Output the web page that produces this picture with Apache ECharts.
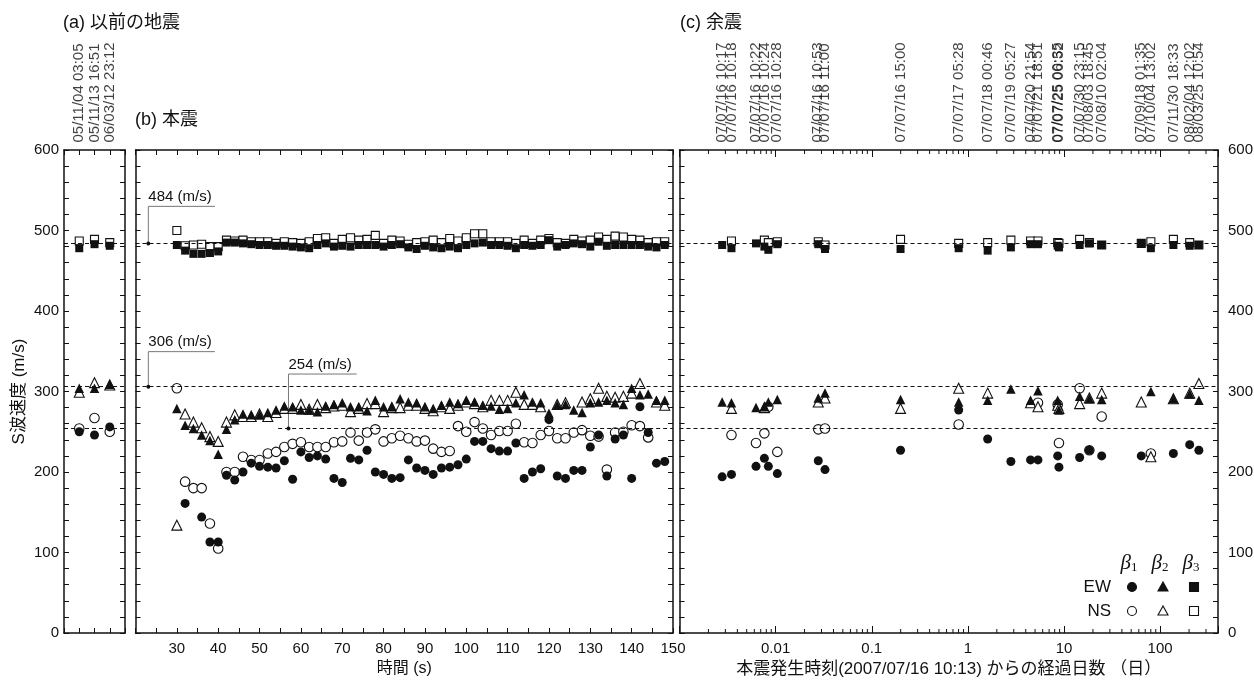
<!DOCTYPE html>
<html>
<head>
<meta charset="utf-8">
<script src="https://cdn.jsdelivr.net/npm/echarts/dist/echarts.min.js"></script>
<style>
html, body { margin: 0; padding: 0; background: #fff; }
#chart { width: 1254px; height: 682px; }
</style>
</head>
<body>
<div id="chart"></div>
<script>
// (a) 以前の地震
var prevLabels = ['05/11/04 03:05', '05/11/13 16:51', '06/03/12 23:12'];
var prevPos = [1, 2, 3];
var prevEW1 = [250, 246, 256];
var prevNS1 = [254, 267, 250];
var prevEW2 = [304, 304, 309];
var prevNS2 = [299, 311, 308];
var prevEW3 = [478, 483, 481];
var prevNS3 = [487, 489, 485];

// (b) 本震 (時間 s)
var mainTime = [30, 32, 34, 36, 38, 40, 42, 44, 46, 48, 50, 52, 54, 56, 58, 60, 62, 64, 66, 68,
  70, 72, 74, 76, 78, 80, 82, 84, 86, 88, 90, 92, 94, 96, 98, 100, 102, 104, 106, 108,
  110, 112, 114, 116, 118, 120, 122, 124, 126, 128, 130, 132, 134, 136, 138, 140, 142, 144, 146, 148];
var mainEW1 = [null, 161, null, 144, 113, 113, 196, 190, 200, 211, 207, 206, 205, 214, 191, 225, 218, 220, 216, 192,
  187, 217, 215, 227, 200, 197, 192, 193, 215, 205, 202, 197, 205, 206, 209, 216, 238, 238, 229, 226,
  226, 236, 192, 200, 204, 265, 195, 192, 202, 202, 231, 246, 195, 241, 246, 192, 281, 249, 211, 213];
var mainNS1 = [304, 188, 180, 180, 136, 105, 200, 200, 219, 215, 215, 223, 225, 231, 235, 237, 231, 231, 231, 237,
  238, 249, 239, 249, 253, 238, 242, 245, 242, 238, 239, 229, 225, 226, 257, 250, 262, 254, 246, 251,
  251, 260, 237, 236, 246, 251, 242, 242, 249, 252, 245, 244, 203, 249, 250, 258, 257, 243, null, null];
var mainEW2 = [279, 258, 254, 246, 239, 222, 253, 265, 272, 271, 271, 274, 277, 282, 281, 277, 277, 275, 282, 284,
  286, 281, 281, 276, 289, 281, 281, 291, 287, 286, 281, 279, 283, 287, 285, 289, 287, 283, 282, 278,
  279, 286, 296, 287, 286, 273, 283, 284, 277, 274, 286, 287, 289, 286, 284, 304, 296, 297, 289, 289];
var mainNS2 = [134, 272, 262, 255, 244, 238, 262, 271, 269, 269, 272, 269, 274, 279, 279, 284, 278, 284, 280, 282,
  283, 275, 279, 285, 285, 275, 280, 280, 283, 283, 279, 276, 281, 279, 283, 287, 285, 281, 289, 289,
  289, 299, 284, 284, 281, null, 284, 286, null, 287, 291, 304, 294, 293, 294, 298, 310, null, 287, 283];
var mainEW3 = [482, 475, 471, 471, 472, 474, 485, 485, 484, 483, 482, 482, 481, 481, 480, 479, 478, 482, 484, 480,
  481, 480, 482, 482, 482, 480, 482, 483, 479, 477, 481, 479, 478, 480, 478, 482, 484, 485, 482, 482,
  481, 478, 482, 481, 482, 488, 480, 482, 484, 483, 480, 486, 481, 482, 482, 482, 482, 480, 479, 482];
var mainNS3 = [500, 481, 482, 483, 480, 480, 488, 487, 488, 486, 486, 486, 484, 486, 485, 484, 486, 490, 491, 484,
  489, 491, 488, 489, 494, 484, 488, 487, 483, 485, 486, 488, 485, 490, 487, 491, 496, 496, 486, 486,
  486, 484, 488, 484, 488, 490, 485, 484, 489, 487, 488, 492, 489, 493, 492, 489, 488, 485, 486, 486];

// (c) 余震 (本震からの経過日数)
var afterDays = [0.002778, 0.003472, 0.00625, 0.007639, 0.0084, 0.010417, 0.027778, 0.032639, 0.199306,
  0.802083, 1.60625, 2.80139, 4.48681, 5.35972, 8.59861, 8.86042, 14.5424, 18.3556, 24.6604,
  63.6396, 80.1174, 137.347, 203.076, 253.028];
var afterLabels = ['07/07/16 10:17', '07/07/16 10:18', '07/07/16 10:22', '07/07/16 10:24', '',
  '07/07/16 10:28', '07/07/16 10:53', '07/07/16 11:00', '07/07/16 15:00', '07/07/17 05:28',
  '07/07/18 00:46', '07/07/19 05:27', '07/07/20 21:54', '07/07/21 18:51', '07/07/25 00:35',
  '07/07/25 06:52', '07/07/30 23:15', '07/08/03 18:45', '07/08/10 02:04', '07/09/18 01:35',
  '07/10/04 13:02', '07/11/30 18:33', '08/02/04 12:02', '08/03/25 10:54'];
var afterEW1 = [194, 197, 207, 217, 207, 198, 214, 203, 227, 277, 241, 213, 215, 215, 220, 206, 218, 227, 220, 220, null, 223, 234, 227];
var afterNS1 = [null, 246, 236, 248, 281, 225, 253, 254, null, 259, null, null, null, 286, 284, 236, 304, 227, 269, null, 223, null, null, null];
var afterEW2 = [287, 286, 280, 281, 287, 290, 292, 298, 290, 287, 289, 303, 289, 301, 289, 277, 294, 291, 290, null, 300, 291, 297, 289];
var afterNS2 = [null, 279, null, 280, null, null, 287, 292, 279, 304, 298, null, 286, 281, 283, 279, 285, 292, 298, 287, 219, 291, 298, 310];
var afterEW3 = [482, 478, 484, 480, 476, 483, 483, 477, 477, 478, 475, 479, 483, 483, 481, 479, 482, 484, 482, 484, 478, 482, 481, 482];
var afterNS3 = [null, 487, null, 488, 485, 486, 486, 482, 489, 484, 485, 488, 487, 487, 485, 484, 489, 485, 482, 484, 486, 489, 485, 482];

// 基準速度 (m/s)
var refLines = [484, 306, 254];
var ref254Start = 54.5;
// 吹き出し: [基点, 折れ点, 終点]
var callouts = [
  {text: '484 (m/s)', pts: [[23.1, 484], [23.1, 530], [39.2, 530]]},
  {text: '306 (m/s)', pts: [[23.1, 306], [23.1, 349.5], [39.2, 349.5]]},
  {text: '254 (m/s)', pts: [[57, 254], [57, 321.7], [73.5, 321.7]]}
];

var FONT = '"Liberation Sans", "Noto Sans CJK JP", sans-serif';
var INK = '#111';

var marks = {
  EW1: {symbol: 'circle', size: 9, fill: INK},
  NS1: {symbol: 'circle', size: 9.5, fill: '#fff'},
  EW2: {symbol: 'triangle', size: 9.5, fill: INK},
  NS2: {symbol: 'triangle', size: 10, fill: '#fff'},
  EW3: {symbol: 'rect', size: 8, fill: INK},
  NS3: {symbol: 'rect', size: 8, fill: '#fff'}
};

function pairs(xs, ys) {
  var out = [];
  for (var i = 0; i < xs.length; i++) {
    if (ys[i] != null) out.push([xs[i], ys[i]]);
  }
  return out;
}

function pointSeries(g, key, xs, ys) {
  var m = marks[key];
  var open = m.fill === '#fff';
  return {
    type: 'scatter', xAxisIndex: g * 2, yAxisIndex: g * 2,
    symbol: m.symbol, symbolSize: m.size, z: open ? 3 : 4,
    itemStyle: {color: m.fill, borderColor: INK, borderWidth: open ? 1.1 : 0, opacity: 1},
    data: pairs(xs, ys), silent: true, clip: false
  };
}

function stampSeries(g, xs, labels) {
  return {
    type: 'scatter', xAxisIndex: g * 2, yAxisIndex: g * 2, symbolSize: 1, z: 5,
    itemStyle: {color: 'rgba(0,0,0,0)'}, clip: false, silent: true,
    data: xs.map(function (x, i) { return {name: labels[i], value: [x, 600]}; }),
    label: {show: true, formatter: '{b}', position: 'top', distance: 7, rotate: 90,
      align: 'left', verticalAlign: 'middle', fontFamily: FONT, fontSize: 15, color: INK}
  };
}

function refSeries(g, lines) {
  return {
    type: 'line', xAxisIndex: g * 2, yAxisIndex: g * 2, data: [], z: 1, silent: true,
    markLine: {silent: true, symbol: ['none', 'none'], label: {show: false}, animation: false,
      lineStyle: {color: INK, type: [4, 3], width: 1}, data: lines}
  };
}

function calloutSeries(c) {
  return {
    type: 'line', xAxisIndex: 2, yAxisIndex: 2, z: 2, silent: true,
    lineStyle: {color: '#777', width: 1}, symbol: 'circle', showSymbol: true,
    data: [
      {value: c.pts[0], symbolSize: 4, itemStyle: {color: INK}},
      {value: c.pts[1], symbolSize: 0,
        label: {show: true, formatter: c.text, position: 'top', distance: 2, align: 'left',
          fontFamily: FONT, fontSize: 15, color: INK}},
      {value: c.pts[2], symbolSize: 0}
    ]
  };
}

var minorTicks = [];
for (var e = -3; e <= 2; e++) {
  for (var m = 2; m <= 9; m++) {
    var v = m * Math.pow(10, e);
    if (v < 400) minorTicks.push([v, 0]);
  }
}

function minorTickItem(params, api) {
  var x = api.coord([api.value(0), 0]);
  var top = api.coord([api.value(0), 600]);
  return {type: 'group', children: [
    {type: 'line', shape: {x1: x[0], y1: x[1], x2: x[0], y2: x[1] - 4}, style: {stroke: INK, lineWidth: 1}},
    {type: 'line', shape: {x1: top[0], y1: top[1], x2: top[0], y2: top[1] + 4}, style: {stroke: INK, lineWidth: 1}}
  ]};
}

function axisBase(pos, extra) {
  var ax = {
    position: pos,
    axisLine: {show: true, onZero: false, lineStyle: {color: INK, width: 1.5}},
    axisTick: {show: true, inside: true, length: 5, lineStyle: {color: INK, width: 1}},
    axisLabel: {show: false},
    splitLine: {show: false}
  };
  for (var k in extra) ax[k] = extra[k];
  return ax;
}

function yLabel(v) { return v % 100 === 0 ? String(v) : ''; }
function secLabel(v) { return (v >= 30 && v % 10 === 0) ? String(v) : ''; }
function dayLabel(v) {
  var p = Math.log(v) / Math.LN10;
  var r = Math.round(p);
  if (Math.abs(p - r) > 1e-6 || r < -2 || r > 2) return '';
  return r < 0 ? Math.pow(10, r).toFixed(-r) : String(Math.pow(10, r));
}

var labelStyle = {show: true, fontFamily: FONT, fontSize: 15, color: INK};
var nameStyle = {fontFamily: FONT, fontSize: 16, color: INK};

var grids = [
  {left: 64, top: 150, width: 61, height: 483, outerBoundsMode: 'none'},
  {left: 135.5, top: 150, width: 537.5, height: 483, outerBoundsMode: 'none'},
  {left: 679.5, top: 150, width: 538.5, height: 483, outerBoundsMode: 'none'}
];

function yAxisFor(g, pos, labels) {
  var extra = {gridIndex: g, type: 'value', min: 0, max: 600, interval: 20};
  if (labels) extra.axisLabel = Object.assign({}, labelStyle, {formatter: yLabel, margin: pos === 'left' ? 5 : 10});
  return axisBase(pos, extra);
}

var xAxes = [
  axisBase('bottom', {gridIndex: 0, type: 'value', min: 0, max: 4, interval: 1}),
  axisBase('top', {gridIndex: 0, type: 'value', min: 0, max: 4, interval: 1}),
  axisBase('bottom', {gridIndex: 1, type: 'value', min: 20, max: 150, interval: 5,
    axisLabel: Object.assign({}, labelStyle, {formatter: secLabel, margin: 8}),
    name: '時間 (s)', nameLocation: 'middle', nameGap: 28, nameTextStyle: nameStyle}),
  axisBase('top', {gridIndex: 1, type: 'value', min: 20, max: 150, interval: 5}),
  axisBase('bottom', {gridIndex: 2, type: 'log', logBase: 10, min: 0.001, max: 400,
    axisTick: {show: true, inside: true, length: 7, lineStyle: {color: INK, width: 1}},
    axisLabel: Object.assign({}, labelStyle, {formatter: dayLabel, margin: 8}),
    name: '本震発生時刻(2007/07/16 10:13) からの経過日数 （日）', nameLocation: 'middle', nameGap: 28,
    nameTextStyle: {fontFamily: FONT, fontSize: 17, color: INK}}),
  axisBase('top', {gridIndex: 2, type: 'log', logBase: 10, min: 0.001, max: 400,
    axisTick: {show: true, inside: true, length: 7, lineStyle: {color: INK, width: 1}}})
];

var y0 = yAxisFor(0, 'left', true);
y0.name = 'S波速度 (m/s)';
y0.nameLocation = 'middle';
y0.nameGap = 36;
y0.nameTextStyle = {fontFamily: FONT, fontSize: 17, color: INK};
var yAxes = [y0, yAxisFor(0, 'right', false), yAxisFor(1, 'left', false), yAxisFor(1, 'right', false),
  yAxisFor(2, 'left', false), yAxisFor(2, 'right', true)];

var series = [];
[[0, prevPos, [prevNS1, prevNS2, prevNS3, prevEW1, prevEW2, prevEW3]],
 [1, mainTime, [mainNS1, mainNS2, mainNS3, mainEW1, mainEW2, mainEW3]],
 [2, afterDays, [afterNS1, afterNS2, afterNS3, afterEW1, afterEW2, afterEW3]]].forEach(function (p) {
  var keys = ['NS1', 'NS2', 'NS3', 'EW1', 'EW2', 'EW3'];
  keys.forEach(function (k, i) { series.push(pointSeries(p[0], k, p[1], p[2][i])); });
});

series.push(refSeries(0, refLines.map(function (r) { return {yAxis: r}; })));
series.push(refSeries(1, [{yAxis: refLines[0]}, {yAxis: refLines[1]},
  [{coord: [ref254Start, refLines[2]]}, {coord: [150, refLines[2]]}]]));
series.push(refSeries(2, refLines.map(function (r) { return {yAxis: r}; })));
callouts.forEach(function (c) { series.push(calloutSeries(c)); });
series.push(stampSeries(0, prevPos, prevLabels));
series.push(stampSeries(2, afterDays, afterLabels));
series.push({type: 'custom', xAxisIndex: 4, yAxisIndex: 4, renderItem: minorTickItem,
  data: minorTicks, silent: true, clip: false, z: 6});

// 凡例
function legendItems() {
  var items = [];
  var cols = [1132, 1163, 1194];
  var rows = [587, 611];
  ['1', '2', '3'].forEach(function (s, i) {
    items.push({type: 'text', x: cols[i] - 3, y: 563, style: {
      text: '{b|β}{s|' + s + '}', verticalAlign: 'middle', align: 'center',
      rich: {b: {fontFamily: '"Liberation Serif", serif', fontStyle: 'italic', fontSize: 21, fill: INK},
             s: {fontFamily: '"Liberation Serif", serif', fontSize: 13, fill: INK, padding: [9, 0, 0, 0]}}}});
  });
  ['EW', 'NS'].forEach(function (t, r) {
    var fill = r === 0 ? INK : '#fff';
    var y = rows[r];
    items.push({type: 'text', x: 1111, y: y, style: {text: t, align: 'right', verticalAlign: 'middle',
      fontFamily: FONT, fontSize: 17, fill: INK}});
    items.push({type: 'circle', shape: {cx: cols[0], cy: y, r: 4.5}, style: {fill: fill, stroke: INK, lineWidth: 1.1}});
    items.push({type: 'polygon', shape: {points: [[cols[1], y - 5], [cols[1] - 5, y + 4], [cols[1] + 5, y + 4]]},
      style: {fill: fill, stroke: INK, lineWidth: 1.1}});
    items.push({type: 'rect', shape: {x: cols[2] - 4.5, y: y - 4.5, width: 9, height: 9}, style: {fill: fill, stroke: INK, lineWidth: 1.1}});
  });
  return items;
}

var titles = [
  {text: '(a) 以前の地震', x: 63, y: 23},
  {text: '(b) 本震', x: 135, y: 120},
  {text: '(c) 余震', x: 680, y: 23}
];

var graphic = titles.map(function (t) {
  return {type: 'text', x: t.x, y: t.y, style: {text: t.text, verticalAlign: 'middle',
    fontFamily: FONT, fontSize: 18, fill: INK}};
}).concat(legendItems());

var chart = echarts.init(document.getElementById('chart'));
chart.setOption({
  animation: false,
  backgroundColor: '#fff',
  grid: grids,
  xAxis: xAxes,
  yAxis: yAxes,
  series: series,
  graphic: graphic
});
</script>
</body>
</html>
